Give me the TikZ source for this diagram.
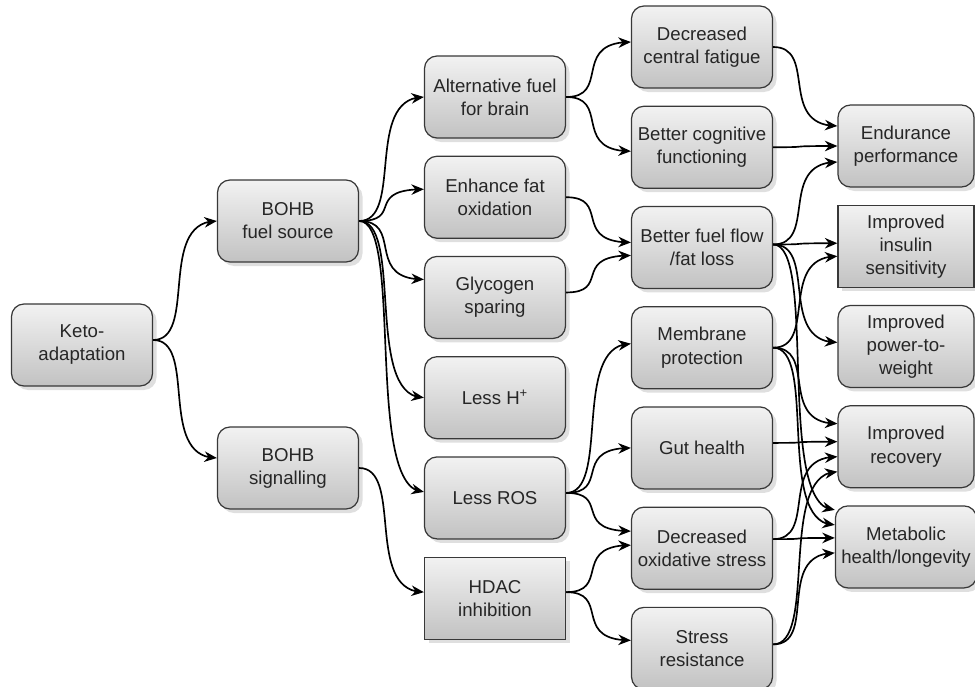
\documentclass[tikz,border=0pt]{standalone}
\usepackage{fontspec}
\setmainfont{Liberation Sans}
\usetikzlibrary{arrows.meta,positioning,shadows,bending}
\definecolor{boxline}{HTML}{383838}
\definecolor{boxtop}{HTML}{F2F2F2}
\definecolor{boxbottom}{HTML}{C2C2C2}
\definecolor{inktext}{HTML}{262626}

\begin{document}
\begin{tikzpicture}[
  node distance=3.4mm,
  effect/.style={draw=boxline,line width=0.7pt,rounded corners=2.5mm,
    top color=boxtop,bottom color=boxbottom,
    drop shadow={opacity=0.25,shadow xshift=0.8mm,shadow yshift=-0.8mm},
    minimum width=2.82cm,minimum height=1.64cm,align=center,
    text=inktext,font=\fontsize{10.6}{13.1}\selectfont},
  outcome/.style={effect,minimum width=2.72cm},
  link/.style={-{Stealth[length=2.5mm,width=2.1mm]},line width=0.95pt,
    out=0,in=180,out distance=9mm,in distance=12mm}
]
\useasboundingbox (0,0) rectangle (19.5,-13.74);
% origin and the two kinds of BOHB action
\node[effect] (keto) at (1.64,-6.9) {Keto-\\adaptation};
\node[effect] (fuel) at (5.76,-4.42) {BOHB\\fuel source};
\node[effect] (signal) at (5.76,-9.36) {BOHB\\signalling};
% direct effects
\node[effect] (altfuel) at (9.9,-1.94) {Alternative fuel\\for brain};
\node[effect,below=of altfuel] (fatox) {Enhance fat\\oxidation};
\node[effect,below=of fatox] (glyco) {Glycogen\\sparing};
\node[effect,below=of glyco] (lessh) {Less H\textsuperscript{+}};
\node[effect,below=of lessh] (lessros) {Less ROS};
\node[effect,sharp corners,below=of lessros] (hdac) {HDAC\\inhibition};
% secondary effects
\node[effect] (fatigue) at (14.04,-0.94) {Decreased\\central fatigue};
\node[effect,below=of fatigue] (cognit) {Better cognitive\\functioning};
\node[effect,below=of cognit] (fuelflow) {Better fuel flow\\/fat loss};
\node[effect,below=of fuelflow] (membrane) {Membrane\\protection};
\node[effect,below=of membrane] (gut) {Gut health};
\node[effect,below=of gut] (oxstress) {Decreased\\oxidative stress};
\node[effect,below=of oxstress] (stressres) {Stress\\resistance};
% outcomes
\node[outcome] (endur) at (18.12,-2.92) {Endurance\\performance};
\node[outcome,sharp corners,below=of endur] (insulin) {Improved\\insulin\\sensitivity};
\node[outcome,below=of insulin] (power) {Improved\\power-to-\\weight};
\node[outcome,below=of power] (recov) {Improved\\recovery};
\node[outcome,below=of recov] (metab) {Metabolic\\health/longevity};

\draw[link] ([yshift=1mm]keto.east) to (fuel.west);
\draw[link] ([yshift=1mm]keto.east) to ([yshift=2mm]signal.west);

\draw[link] (fuel.east) to (altfuel.west);
\draw[link] (fuel.east) to ([yshift=1.6mm]fatox.west);
\draw[link] (fuel.east) to ([yshift=3.6mm]glyco.west);
\draw[link] (fuel.east) to (lessh.west);
\draw[link] (fuel.east) to ([yshift=1.2mm]lessros.west);
\draw[link] (signal.east) to ([yshift=1.2mm]hdac.west);

\draw[link] (altfuel.east) to ([yshift=1mm]fatigue.west);
\draw[link] (altfuel.east) to ([yshift=-0.8mm]cognit.west);
\draw[link] (fatox.east) to ([yshift=1mm]fuelflow.west);
\draw[link] ([yshift=1mm]glyco.east) to ([yshift=-1.6mm]fuelflow.west);
\draw[link] ([yshift=1mm]lessros.east) to ([yshift=0.8mm]membrane.west);
\draw[link] ([yshift=1mm]lessros.east) to (gut.west);
\draw[link] ([yshift=1mm]lessros.east) to ([yshift=3.4mm]oxstress.west);
\draw[link] ([yshift=1.2mm]hdac.east) to ([yshift=0.6mm]oxstress.west);
\draw[link] ([yshift=1.2mm]hdac.east) to ([yshift=1.6mm]stressres.west);

\draw[link] (fatigue.east) to ([yshift=4mm]endur.west);
\draw[link] (cognit.east) to (endur.west);
\draw[link] ([yshift=0.6mm]fuelflow.east) to ([yshift=-3.2mm]endur.west);
\draw[link] ([yshift=0.6mm]fuelflow.east) to ([yshift=0.6mm]insulin.west);
\draw[link] ([yshift=0.6mm]fuelflow.east) to ([yshift=0.8mm]power.west);
\draw[link] ([yshift=0.6mm]fuelflow.east) to ([yshift=7.4mm]metab.west);
\draw[link] (membrane.east) to ([yshift=-2mm]insulin.west);
\draw[link] (membrane.east) to ([yshift=4.6mm]recov.west);
\draw[link] (membrane.east) to ([yshift=4.4mm]metab.west);
\draw[link] ([yshift=1mm]gut.east) to ([yshift=1mm]recov.west);
\draw[link] ([yshift=1.8mm]oxstress.east) to ([yshift=-2mm]recov.west);
\draw[link] ([yshift=1.8mm]oxstress.east) to ([yshift=1.8mm]metab.west);
\draw[link] ([yshift=0.8mm]stressres.east) to ([yshift=-5mm]recov.west);
\draw[link] ([yshift=0.8mm]stressres.east) to ([yshift=-1.2mm]metab.west);
\end{tikzpicture}
\end{document}
